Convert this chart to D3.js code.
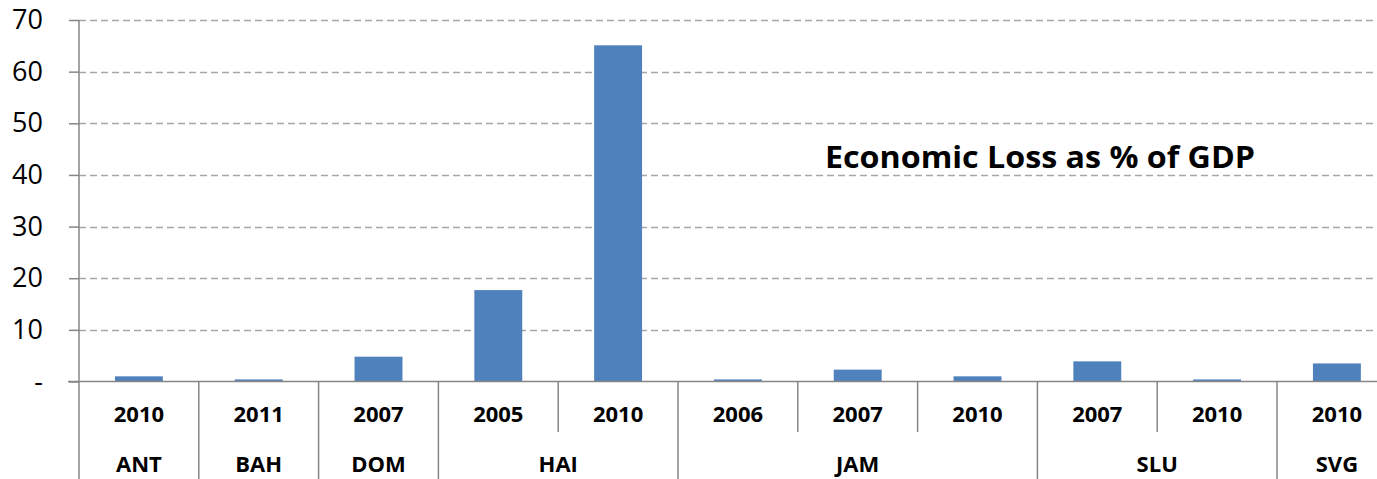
<!DOCTYPE html>
<html>
<head>
<meta charset="utf-8">
<script src="https://cdn.jsdelivr.net/npm/d3@7"></script>
<style>
  body { margin: 0; background: #fff; }
  svg { display: block; font-family: "Open Sans", "Liberation Sans", sans-serif; }
</style>
</head>
<body>
<div id="chart"></div>
<script>
// chart data
const countries = ["ANT", "BAH", "DOM", "HAI", "HAI", "JAM", "JAM", "JAM", "SLU", "SLU", "SVG"];
const years = ["2010", "2011", "2007", "2005", "2010", "2006", "2007", "2010", "2007", "2010", "2010"];
const losses = [1.0, 0.4, 4.8, 17.7, 65.1, 0.4, 2.3, 1.0, 3.9, 0.4, 3.5];
const yTicks = [0, 10, 20, 30, 40, 50, 60, 70];
const yTickLabels = ["-", "10", "20", "30", "40", "50", "60", "70"];
const title = "Economic Loss as % of GDP";

const width = 1377, height = 479;
const margin = {left: 79, top: 20, zero: 381.5};

const svg = d3.select("#chart").append("svg")
    .attr("width", width)
    .attr("height", height);

const keys = countries.map((c, i) => i);

const xScale = d3.scaleBand()
    .domain(keys)
    .range([margin.left, margin.left + 11 * 119.8])
    .padding(0);

const yScale = d3.scaleLinear()
    .domain([0, 70])
    .range([margin.zero, margin.top]);

const axisColor = "#868686";

// gridlines
svg.append("g")
    .selectAll("line")
    .data(yTicks.filter(d => d > 0))
    .enter()
    .append("line")
    .attr("x1", margin.left)
    .attr("x2", width)
    .attr("y1", d => Math.round(yScale(d)) + 0.5)
    .attr("y2", d => Math.round(yScale(d)) + 0.5)
    .attr("stroke", "#a6a6a6")
    .attr("stroke-width", 1.5)
    .attr("stroke-dasharray", "7,4");

// y axis
const yAxis = d3.axisLeft(yScale)
    .tickValues(yTicks)
    .tickSize(10)
    .tickPadding(26)
    .tickFormat((d, i) => yTickLabels[i]);

const yAxisGroup = svg.append("g")
    .attr("transform", `translate(${margin.left},0)`)
    .call(yAxis);

yAxisGroup.select(".domain").remove();
yAxisGroup.selectAll(".tick line").attr("stroke", axisColor).attr("stroke-width", 1.5);
yAxisGroup.selectAll(".tick text")
    .attr("font-size", 27)
    .attr("fill", "#000")
    .attr("font-family", "\"Open Sans\", sans-serif");

svg.append("line")
    .attr("x1", margin.left).attr("x2", margin.left)
    .attr("y1", margin.top).attr("y2", height)
    .attr("stroke", axisColor).attr("stroke-width", 1.5);

// bars
svg.append("g")
    .selectAll("rect")
    .data(losses)
    .enter()
    .append("rect")
    .attr("x", (d, i) => xScale(i) + xScale.bandwidth() * 0.3)
    .attr("width", xScale.bandwidth() * 0.4)
    .attr("y", d => yScale(d))
    .attr("height", d => yScale(0) - yScale(d))
    .attr("fill", "#4f81bd");

// x axis line
svg.append("line")
    .attr("x1", 68).attr("x2", width)
    .attr("y1", margin.zero).attr("y2", margin.zero)
    .attr("stroke", axisColor).attr("stroke-width", 1.5);

// category separators
const separators = svg.append("g");
keys.forEach(i => {
    if (i === 0) return;
    const sameGroup = countries[i] === countries[i - 1];
    separators.append("line")
        .attr("x1", xScale(i)).attr("x2", xScale(i))
        .attr("y1", margin.zero)
        .attr("y2", sameGroup ? 432 : height)
        .attr("stroke", axisColor).attr("stroke-width", 1.5);
});

// year labels
svg.append("g")
    .selectAll("text")
    .data(years)
    .enter()
    .append("text")
    .attr("x", (d, i) => xScale(i) + xScale.bandwidth() / 2)
    .attr("y", 422)
    .attr("text-anchor", "middle")
    .attr("font-size", 22)
    .attr("font-weight", "bold")
    .text(d => d);

// country labels
const groups = [];
countries.forEach((c, i) => {
    const last = groups[groups.length - 1];
    if (last && last.name === c) last.end = i;
    else groups.push({name: c, start: i, end: i});
});

svg.append("g")
    .selectAll("text")
    .data(groups)
    .enter()
    .append("text")
    .attr("x", d => (xScale(d.start) + xScale(d.end) + xScale.bandwidth()) / 2)
    .attr("y", 472)
    .attr("text-anchor", "middle")
    .attr("font-size", 22)
    .attr("font-weight", "bold")
    .text(d => d.name);

// title
svg.append("text")
    .attr("x", 825)
    .attr("y", 168)
    .attr("font-size", 31)
    .attr("font-weight", "bold")
    .attr("textLength", 430)
    .attr("lengthAdjust", "spacingAndGlyphs")
    .text(title);
</script>
</body>
</html>
